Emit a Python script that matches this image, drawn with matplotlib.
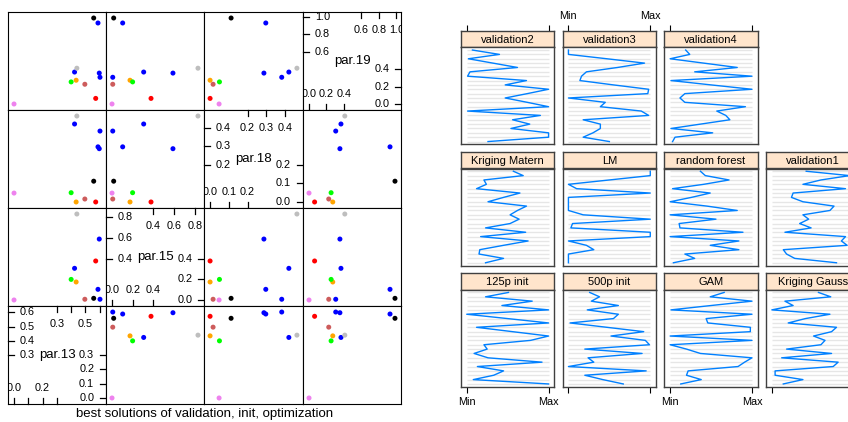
import numpy as np
import matplotlib
matplotlib.use("Agg")
import matplotlib.pyplot as plt

plt.rcParams['font.family'] = ['Liberation Sans', 'DejaVu Sans']

W, H = 848, 422

# ---- scatterplot matrix data (one entry per best solution) ----
par13 = [0.558, 0.424, 0.588, 0.597, 0.602, 0.440, 0.435, 0.400, 0.496, 0.572, 0.000]
par15 = [0.016, 0.306, 0.103, 0.589, 0.007, 0.831, 0.174, 0.199, 0.007, 0.377, 0.000]
par18 = [0.112, 0.420, 0.297, 0.287, 0.382, 0.463, 0.000, 0.050, 0.016, 0.000, 0.048]
par19 = [0.985, 0.366, 0.928, 0.354, 0.306, 0.410, 0.272, 0.253, 0.226, 0.064, 0.000]
point_cols = ['black', 'blue', 'blue', 'blue', 'blue', '#bebebe', 'orange',
              'lime', 'indianred', 'red', 'violet']
var_names = ['par.13', 'par.15', 'par.18', 'par.19']
var_steps = [0.1, 0.2, 0.1, 0.2]
splom_xlab = 'best solutions of validation, init, optimization'

# ---- parallel plot data: scaled values, top variable first ----
init125 = [0.51, 0.23, 0.80, 0.43, 1.00, 0.00, 0.50, 1.00, 0.12, 0.56, 1.00,
           0.78, 0.21, 0.25, 0.09, 0.26, 0.92, 0.13, 0.45, 0.33, 0.08, 1.00]
init500 = [0.26, 0.38, 0.28, 0.61, 0.23, 0.61, 0.55, 0.02, 0.47, 0.92, 0.52,
           0.94, 0.99, 0.20, 0.90, 0.24, 0.31, 0.00, 0.95, 0.20, 0.42, 0.67]
gam = [0.66, 0.49, 1.00, 0.50, 0.01, 1.00, 0.44, 0.46, 0.98, 0.98, 0.00,
       1.00, 0.00, 0.20, 0.37, 1.00, 0.91, 0.83, 0.22, 0.20, 0.38, 0.13]
krig_gauss = [0.57, 0.72, 0.16, 0.26, 0.00, 0.71, 0.41, 0.20, 0.79, 0.73, 0.51,
              0.65, 0.60, 0.18, 0.73, 0.12, 0.81, 0.75, 0.04, 0.04, 0.38, 0.14]
krig_matern = [0.57, 0.69, 0.21, 0.24, 0.12, 0.65, 0.45, 0.26, 0.73, 0.62, 0.53,
               0.64, 0.53, 0.23, 0.72, 0.17, 0.75, 0.45, 0.16, 0.15, 0.45, 0.23]
lm = [1.00, 1.00, 0.50, 0.00, 0.10, 1.00, 0.00, 0.00, 0.00, 0.00, 0.18,
      1.00, 0.05, 0.03, 1.00, 1.00, 0.00, 0.22, 0.31, 0.00, 0.00, 0.00]
rforest = [0.37, 0.43, 0.72, 0.41, 0.03, 0.49, 0.26, 0.00, 0.45, 0.82, 0.00,
           0.56, 0.11, 0.12, 0.89, 0.00, 0.84, 0.49, 0.84, 0.18, 0.30, 0.04]
valid1 = [0.42, 0.95, 0.60, 0.38, 0.90, 0.26, 0.24, 0.38, 0.76, 0.71, 0.38,
          0.45, 0.34, 0.48, 0.16, 0.90, 0.85, 0.92, 0.14, 0.18, 0.28, 0.79]
valid2 = [0.07, 0.40, 0.02, 0.32, 0.62, 0.04, 0.01, 0.73, 0.47, 1.00, 0.74,
          0.47, 0.74, 1.00, 0.01, 0.90, 0.56, 0.77, 0.54, 1.00, 1.00, 0.26]
valid3 = [0.00, 0.00, 0.47, 0.93, 0.60, 0.22, 0.16, 0.14, 0.55, 0.98, 0.97,
          0.00, 0.45, 0.39, 0.89, 0.98, 0.18, 0.39, 0.39, 0.30, 0.18, 0.50]
valid4 = [0.19, 0.24, 0.00, 0.41, 0.82, 0.30, 1.00, 0.01, 0.50, 1.00, 0.18,
          0.12, 0.18, 0.92, 0.57, 0.68, 0.73, 0.37, 0.01, 0.52, 0.06, 0.03]

panel_names = ['125p init', '500p init', 'GAM', 'Kriging Gauss', 'Kriging Matern', 'LM',
               'random forest', 'validation1', 'validation2', 'validation3', 'validation4']
panel_vals = [init125, init500, gam, krig_gauss, krig_matern, lm,
              rforest, valid1, valid2, valid3, valid4]


def px_axes(fig, x, y, w, h):
    return fig.add_axes([x / W, 1 - (y + h) / H, w / W, h / H])


fig = plt.figure(figsize=(W / 100, H / 100), dpi=100)

# ================= scatterplot matrix =================
data = [np.array(par13), np.array(par15), np.array(par18), np.array(par19)]
lims = []
ticks = []
for d, st in zip(data, var_steps):
    pad = 0.07 * (d.max() - d.min())
    lo, hi = d.min() - pad, d.max() + pad
    lims.append((lo, hi))
    t = np.arange(np.ceil(lo / st) * st, hi + 1e-9, st)
    ticks.append(np.round(t, 2) + 0.0)

sx0, sy0, cw, ch = 8, 12, 98.25, 98.0
tk = 0.062
for r in range(4):
    for c in range(4):
        xa = round(sx0 + c * cw)
        xb = round(sx0 + (c + 1) * cw)
        ya = round(sy0 + r * ch)
        yb = round(sy0 + (r + 1) * ch)
        ax = px_axes(fig, xa, ya, xb - xa, yb - ya)
        vy = 3 - r
        vx = c
        ax.set_xticks([])
        ax.set_yticks([])
        for sp in ax.spines.values():
            sp.set_linewidth(0.8)
            sp.set_color('black')
        lo, hi = lims[vx]
        ax.set_xlim(lo, hi)
        if vx == vy:
            ax.set_ylim(lo, hi)
            ax.text(0.5, 0.5, var_names[vx], transform=ax.transAxes,
                    ha='center', va='center', fontsize=9.5)
            t = ticks[vx]
            n = len(t)
            m = (n + 1) // 2
            low, up = t[:m], t[n - m:]
            ytr = ax.get_yaxis_transform()
            xtr = ax.get_xaxis_transform()
            spacing = var_steps[vx] / (hi - lo) * cw
            every = 2 if spacing < 16 else 1
            for k, v in enumerate(up):
                lab = '%.1f' % abs(v)
                ax.plot([0, tk], [v, v], transform=ytr, color='black', lw=0.9, clip_on=False)
                ax.text(0.12, v, lab, transform=ytr, ha='left', va='center', fontsize=7.8)
                ax.plot([v, v], [1, 1 - tk], transform=xtr, color='black', lw=0.9, clip_on=False)
                if k % every == 0:
                    ax.text(v, 0.82, lab, transform=xtr, ha='center', va='center',
                            fontsize=7.8, clip_on=True)
            for k, v in enumerate(low):
                lab = '%.1f' % abs(v)
                ax.plot([1 - tk, 1], [v, v], transform=ytr, color='black', lw=0.9, clip_on=False)
                ax.text(0.88, v, lab, transform=ytr, ha='right', va='center', fontsize=7.8)
                ax.plot([v, v], [0, tk], transform=xtr, color='black', lw=0.9, clip_on=False)
                if k % every == 0:
                    ax.text(v, 0.16, lab, transform=xtr, ha='center', va='center',
                            fontsize=7.8, clip_on=True)
        else:
            ax.set_ylim(*lims[vy])
            ax.scatter(data[vx], data[vy], c=point_cols, s=13, linewidths=0, zorder=3)

fig.text((sx0 + 2 * cw) / W, 1 - 414 / H, splom_xlab, ha='center', va='center', fontsize=9.5)

# ================= parallel coordinate panels =================
px0, pitch_x, pw = 461, 101.7, 93.3
py0, pitch_y, sh, ph = 31, 121.2, 16.3, 97
nvar = len(valid1)
yv = np.arange(nvar, 0, -1)
xlim = (-0.07, 1.07)
ylim = (1 - 0.03 * (nvar - 1), nvar + 0.03 * (nvar - 1))
border = '#404040'

for k, (name, vals) in enumerate(zip(panel_names, panel_vals)):
    col = k % 4
    row = 2 - k // 4
    x = px0 + col * pitch_x
    ys = py0 + row * pitch_y
    sax = px_axes(fig, x, ys, pw, sh)
    pax = px_axes(fig, x, ys + sh, pw, ph)

    sax.set_facecolor('#ffe5cc')
    sax.set_xlim(*xlim)
    sax.set_yticks([])
    sax.text(0.5, 0.45, name, transform=sax.transAxes, ha='center', va='center', fontsize=8)
    for sp in sax.spines.values():
        sp.set_color(border)
        sp.set_linewidth(1.0)

    pax.set_xlim(*xlim)
    pax.set_ylim(*ylim)
    pax.set_yticks([])
    pax.hlines(yv, 0, 1, color='#e6e6e6', lw=1.0)
    pax.plot(vals, yv, color='#0080ff', lw=1.0)
    for sp in pax.spines.values():
        sp.set_color(border)
        sp.set_linewidth(1.0)

    # axes: ticks on top of top row, bottom of bottom row, labels alternate
    if row == 0:
        sax.xaxis.tick_top()
        sax.set_xticks([0, 1])
        sax.tick_params(axis='x', direction='out', length=4.2, width=0.8, pad=3,
                        labelsize=7.8, colors='black')
        if col % 2 == 1:
            sax.set_xticklabels(['Min', 'Max'])
        else:
            sax.set_xticklabels([])
    else:
        sax.set_xticks([])

    if row == 2:
        pax.set_xticks([0, 1])
        pax.tick_params(axis='x', direction='out', length=4.2, width=0.8, pad=3.5,
                        labelsize=7.8, colors='black')
        if col % 2 == 0:
            pax.set_xticklabels(['Min', 'Max'])
        else:
            pax.set_xticklabels([])
    else:
        pax.set_xticks([])

fig.savefig('out.png', dpi=100)
